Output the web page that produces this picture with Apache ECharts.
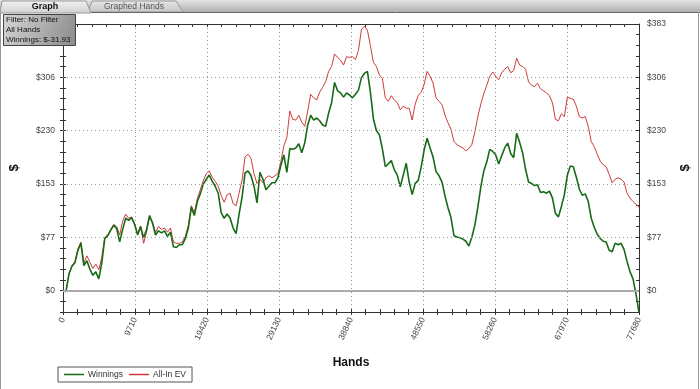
<!DOCTYPE html>
<html><head><meta charset="utf-8">
<script src="https://cdn.jsdelivr.net/npm/echarts@6/dist/echarts.min.js"></script>
<style>html,body{margin:0;padding:0;background:#fff}#c{width:700px;height:389px}</style>
</head><body><div id="c"></div>
<script>
// Hands sampled on an even grid from 0 to 77680 (194 samples)
const totalHands = 77680;
const sampleCount = 194;
const winnings = [
0,-1,24,35,40,58,68,36,43,31,22,27,17,40,75,79,87,94,89,70,
88,104,101,105,95,80,92,76,88,108,97,80,86,83,86,78,84,63,62,66,
66,75,90,120,108,128,139,153,160,166,157,150,140,112,104,110,104,90,82,110,
134,169,172,165,150,126,170,160,145,150,155,155,162,180,195,170,204,203,205,211,
198,212,238,252,245,248,244,238,236,255,270,299,287,284,278,284,281,277,282,288,
306,312,315,285,247,230,224,204,178,182,187,174,166,149,166,183,156,138,154,158,
177,202,219,205,192,171,165,156,136,119,105,79,77,76,74,71,64,77,94,120,
149,172,185,203,200,195,182,194,205,212,197,191,226,213,198,174,156,154,151,152,
141,142,140,143,133,111,106,121,138,166,179,178,163,146,137,139,128,104,91,81,
75,71,70,58,56,68,66,68,59,42,27,17,-5,-31.93
];
const allInEV = [
0,-1,24,36,42,60,70,40,50,41,32,38,30,48,76,80,88,95,92,80,
100,110,104,106,96,82,93,68,84,106,98,84,92,88,90,84,90,70,68,68,
70,78,94,122,112,132,145,158,168,172,163,157,150,137,127,138,140,125,122,140,
159,192,196,190,168,154,160,155,162,165,162,165,168,185,208,220,258,246,245,252,
242,236,258,282,277,274,285,292,300,315,322,340,335,331,324,336,335,336,332,345,
375,380,374,352,328,322,310,305,277,272,280,274,270,260,265,262,262,245,268,280,
285,296,315,308,298,277,272,267,252,241,232,214,210,207,205,201,204,210,228,250,
268,283,295,308,314,308,303,313,318,322,313,316,334,324,322,318,300,295,293,298,
290,287,284,280,270,246,244,254,250,278,276,275,265,250,248,250,236,214,207,196,
186,181,178,167,155,160,162,160,156,140,133,128,124,120
];
const seriesNames = ['Winnings', 'All-In EV'];
const xTickLabels = [0, 9710, 19420, 29130, 38840, 48550, 58260, 67970, 77680];
const yTickLabels = [0, 76.6, 153.2, 229.8, 306.4, 383];
const yMin = -30.64, yMax = 383, yMinorStep = 15.32;

const hands = winnings.map((_, i) => Math.round(i * totalHands / (sampleCount - 1)));
const yTicks = [];
for (let k = 0; k <= 27; k++) yTicks.push(+(yMin + k * yMinorStep).toFixed(2));

const FONT = 'Liberation Sans';
const axisCol = '#333';
const labelStyle = { fontSize: 8.5, color: '#444', fontFamily: FONT };

function yAxisDef(pos, inside, withLabels) {
  return {
    type: 'value', position: pos, min: yMin, max: yMax,
    axisLine: { show: true, lineStyle: { color: axisCol, width: 1 } },
    axisTick: { show: true, inside: inside, length: 3, customValues: yTicks, lineStyle: { color: axisCol } },
    axisLabel: withLabels ? Object.assign({
      show: true, customValues: yTickLabels, margin: 8,
      formatter: v => '$' + Math.round(v)
    }, labelStyle) : { show: false },
    splitLine: { show: false },
    name: withLabels ? '$' : '', nameLocation: 'middle', nameRotate: 90,
    nameGap: pos === 'left' ? 42 : 40,
    nameTextStyle: { fontSize: 13, fontWeight: 'bold', color: '#111', fontFamily: FONT }
  };
}
function xAxisDef(pos, inside, withLabels) {
  return {
    type: 'value', position: pos, min: 0, max: totalHands, interval: 9710,
    axisLine: { show: true, onZero: false, lineStyle: { color: axisCol, width: 1 } },
    axisTick: { show: true, inside: inside, length: 3, lineStyle: { color: axisCol } },
    minorTick: { show: true, splitNumber: 5, length: 3, lineStyle: { color: axisCol } },
    axisLabel: withLabels ? Object.assign({ show: true, rotate: 65, margin: 6,
      customValues: xTickLabels, formatter: v => String(v) }, labelStyle) : { show: false },
    splitLine: withLabels ? { show: true, lineStyle: { type: [1, 3], color: '#999', width: 1 } } : { show: false },
    name: withLabels ? 'Hands' : '', nameLocation: 'middle', nameGap: 45,
    nameTextStyle: { fontSize: 12, fontWeight: 'bold', color: '#111', fontFamily: FONT }
  };
}

const chart = echarts.init(document.getElementById('c'), null, { renderer: 'canvas' });
const gridLineData = yTickLabels.slice(1, 5).map(v => ({ yAxis: v, lineStyle: { type: [1, 3], color: '#999', width: 1 } }));
gridLineData.push({ yAxis: 0, lineStyle: { type: 'solid', color: '#aaa', width: 2 } });

chart.setOption({
  animation: false,
  backgroundColor: '#fff',
  grid: { left: 60, right: 60, top: 24, bottom: 77, containLabel: false },
  xAxis: [xAxisDef('bottom', false, true), xAxisDef('bottom', true, false), xAxisDef('top', true, false)],
  yAxis: [yAxisDef('left', false, true), yAxisDef('right', false, true), yAxisDef('left', true, false), yAxisDef('right', true, false)],
  legend: {
    data: seriesNames.map(n => ({ name: n, icon: 'rect' })), left: 58, top: 367, orient: 'horizontal',
    borderColor: '#555', borderWidth: 1, padding: [3, 6], itemGap: 6,
    itemWidth: 20, itemHeight: 1.5,
    textStyle: { fontSize: 8.5, color: '#333', fontFamily: FONT, padding: [0, 0, 0, -1] }
  },
  series: [
    { name: 'grid', type: 'line', data: [], z: 1, silent: true,
      markLine: { silent: true, symbol: 'none', label: { show: false }, data: gridLineData, animation: false } },
    { name: seriesNames[1], type: 'line', data: hands.map((h, i) => [h, allInEV[i]]), showSymbol: false, symbol: 'none',
      lineStyle: { color: '#d03a3a', width: 1 }, itemStyle: { color: '#d03a3a' }, z: 3 },
    { name: seriesNames[0], type: 'line', data: hands.map((h, i) => [h, winnings[i]]), showSymbol: false, symbol: 'none',
      lineStyle: { color: '#176b17', width: 1.6 }, itemStyle: { color: '#176b17' }, z: 4 }
  ],
  graphic: [
    { type: 'rect', shape: { x: 0, y: 0, width: 700, height: 12 }, style: { fill: new echarts.graphic.LinearGradient(0, 0, 0, 1, [{ offset: 0, color: '#e4e4e4' }, { offset: 1, color: '#b0b0b0' }]) }, z: 10 },
    { type: 'polygon', shape: { points: [[88, 12], [92, 1], [176, 1], [183, 12]] }, style: { fill: new echarts.graphic.LinearGradient(0, 0, 0, 1, [{ offset: 0, color: '#e8e8e8' }, { offset: 1, color: '#c4c4c4' }]), stroke: '#999', lineWidth: 1 }, z: 11 },
    { type: 'text', style: { text: 'Graphed Hands', x: 134, y: 6.5, align: 'center', verticalAlign: 'middle', fontSize: 8.5, fill: '#555', fontFamily: FONT }, z: 12 },
    { type: 'polygon', shape: { points: [[0, 13], [2, 1], [86, 1], [91, 13]] }, style: { fill: new echarts.graphic.LinearGradient(0, 0, 0, 1, [{ offset: 0, color: '#f2f2f2' }, { offset: 1, color: '#d0d0d0' }]), stroke: '#999', lineWidth: 1 }, z: 13 },
    { type: 'text', style: { text: 'Graph', x: 45, y: 6.5, align: 'center', verticalAlign: 'middle', fontSize: 9, fontWeight: 'bold', fill: '#111', fontFamily: FONT }, z: 14 },
    { type: 'line', shape: { x1: 91, y1: 12.5, x2: 700, y2: 12.5 }, style: { stroke: '#666', lineWidth: 1 }, z: 12 },
    { type: 'line', shape: { x1: 0.5, y1: 12, x2: 0.5, y2: 389 }, style: { stroke: '#999', lineWidth: 1 }, z: 12 },
    { type: 'line', shape: { x1: 698.5, y1: 12, x2: 698.5, y2: 389 }, style: { stroke: '#999', lineWidth: 1 }, z: 12 },
    { type: 'rect', shape: { x: 3.5, y: 14.5, width: 72, height: 31 }, style: { fill: new echarts.graphic.LinearGradient(0, 0, 1, 1, [{ offset: 0, color: '#d6d6d6' }, { offset: 1, color: '#8a8a8a' }]), stroke: '#444', lineWidth: 1 }, z: 20 },
    { type: 'text', style: { text: 'Filter: No Filter', x: 6, y: 20, verticalAlign: 'middle', fontSize: 8, fill: '#111', fontFamily: FONT }, z: 21 },
    { type: 'text', style: { text: 'All Hands', x: 6, y: 30, verticalAlign: 'middle', fontSize: 8, fill: '#111', fontFamily: FONT }, z: 21 },
    { type: 'text', style: { text: 'Winnings: $' + winnings[winnings.length - 1].toFixed(2), x: 6, y: 40, verticalAlign: 'middle', fontSize: 8, fill: '#111', fontFamily: FONT }, z: 21 }
  ]
});
</script></body></html>
